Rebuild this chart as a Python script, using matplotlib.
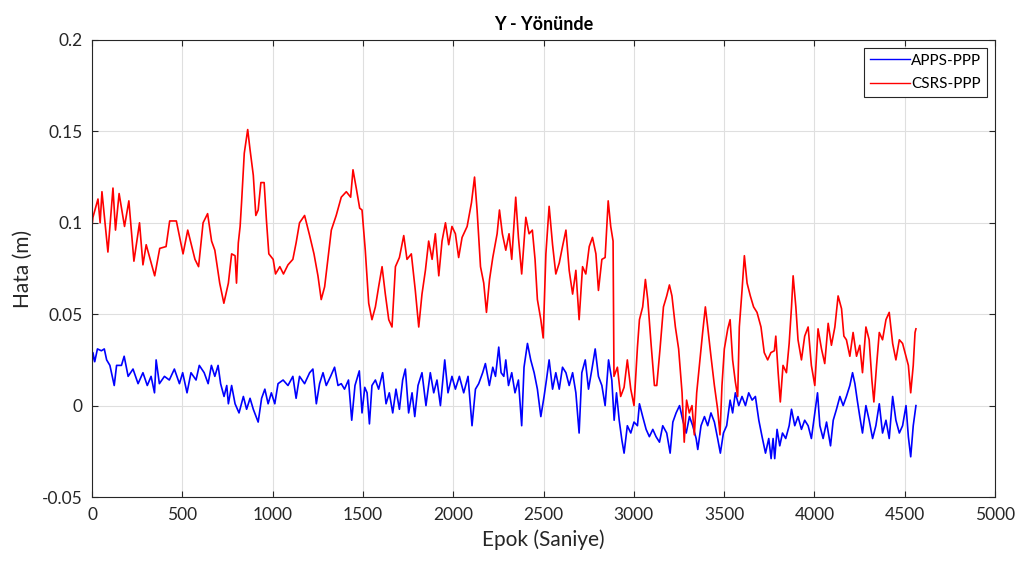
import matplotlib
matplotlib.use("Agg")
import matplotlib.pyplot as plt

plt.rcParams['font.family'] = ['Lato', 'DejaVu Sans']

# CSRS-PPP (red) - epoch / error (m)
red_t = [0, 5, 33, 45, 55, 88, 116, 130, 150, 180,
         204, 232, 263, 282, 300, 347, 375, 410, 430, 467,
         504, 530, 570, 590, 615, 640, 662, 680, 707, 730,
         755, 773, 792, 800, 810, 820, 828, 843, 862, 875,
         893, 907, 920, 935, 953, 966, 979, 1003, 1016, 1040,
         1060, 1085, 1112, 1130, 1149, 1177, 1205, 1229, 1251, 1269,
         1288, 1306, 1325, 1352, 1380, 1408, 1432, 1445, 1463, 1482,
         1495, 1513, 1532, 1550, 1569, 1587, 1606, 1624, 1643, 1661,
         1680, 1702, 1726, 1744, 1768, 1790, 1809, 1827, 1846, 1864,
         1883, 1901, 1920, 1938, 1957, 1975, 1993, 2012, 2030, 2049,
         2077, 2101, 2118, 2132, 2151, 2169, 2184, 2201, 2219, 2243,
         2256, 2272, 2291, 2309, 2324, 2346, 2361, 2379, 2402, 2420,
         2438, 2453, 2466, 2485, 2498, 2513, 2531, 2550, 2568, 2587,
         2605, 2624, 2642, 2661, 2679, 2697, 2716, 2734, 2753, 2771,
         2790, 2804, 2823, 2841, 2858, 2872, 2885, 2890, 2909, 2927,
         2946, 2964, 2983, 3001, 3020, 3031, 3049, 3064, 3077, 3096,
         3114, 3127, 3145, 3164, 3182, 3197, 3211, 3230, 3248, 3267,
         3279, 3292, 3307, 3322, 3335, 3348, 3366, 3381, 3396, 3409,
         3427, 3446, 3464, 3477, 3488, 3501, 3520, 3533, 3547, 3562,
         3575, 3584, 3599, 3612, 3627, 3645, 3663, 3682, 3704, 3722,
         3741, 3759, 3778, 3786, 3799, 3811, 3826, 3845, 3860, 3873,
         3882, 3897, 3909, 3928, 3946, 3965, 3983, 4002, 4020, 4039,
         4057, 4076, 4094, 4113, 4131, 4150, 4163, 4177, 4196, 4214,
         4233, 4251, 4266, 4285, 4303, 4318, 4329, 4344, 4359, 4377,
         4396, 4414, 4433, 4451, 4470, 4488, 4507, 4520, 4533, 4547,
         4557, 4562]
red_v = [0.098, 0.103, 0.113, 0.100, 0.117, 0.084, 0.119, 0.096, 0.116, 0.098,
         0.112, 0.079, 0.100, 0.077, 0.088, 0.071, 0.086, 0.087, 0.101, 0.101,
         0.083, 0.096, 0.080, 0.076, 0.100, 0.105, 0.090, 0.085, 0.067, 0.056,
         0.067, 0.083, 0.082, 0.067, 0.089, 0.098, 0.111, 0.138, 0.151, 0.140,
         0.126, 0.104, 0.107, 0.122, 0.122, 0.101, 0.083, 0.080, 0.072, 0.076,
         0.072, 0.077, 0.080, 0.089, 0.100, 0.104, 0.093, 0.083, 0.071, 0.058,
         0.065, 0.080, 0.096, 0.104, 0.114, 0.117, 0.114, 0.129, 0.119, 0.108,
         0.107, 0.085, 0.056, 0.047, 0.054, 0.065, 0.076, 0.061, 0.047, 0.043,
         0.076, 0.081, 0.093, 0.080, 0.083, 0.063, 0.043, 0.061, 0.074, 0.090,
         0.080, 0.094, 0.071, 0.090, 0.100, 0.088, 0.098, 0.094, 0.081, 0.092,
         0.098, 0.111, 0.125, 0.107, 0.076, 0.067, 0.051, 0.069, 0.081, 0.094,
         0.107, 0.094, 0.085, 0.094, 0.080, 0.114, 0.092, 0.072, 0.103, 0.094,
         0.096, 0.080, 0.058, 0.047, 0.037, 0.083, 0.109, 0.088, 0.072, 0.078,
         0.087, 0.096, 0.074, 0.061, 0.074, 0.047, 0.076, 0.072, 0.087, 0.092,
         0.083, 0.063, 0.080, 0.081, 0.112, 0.098, 0.090, 0.016, 0.021, 0.005,
         0.010, 0.025, 0.009, 0.000, 0.032, 0.047, 0.054, 0.069, 0.058, 0.033,
         0.011, 0.011, 0.031, 0.054, 0.060, 0.066, 0.060, 0.043, 0.031, 0.007,
         -0.020, 0.003, -0.004, 0.000, -0.016, 0.007, 0.025, 0.040, 0.054, 0.043,
         0.027, 0.011, -0.002, -0.016, 0.011, 0.031, 0.042, 0.047, 0.025, 0.013,
         0.005, 0.043, 0.063, 0.082, 0.067, 0.060, 0.054, 0.051, 0.043, 0.029,
         0.025, 0.029, 0.030, 0.038, 0.018, 0.002, 0.022, 0.018, 0.034, 0.054,
         0.071, 0.054, 0.036, 0.025, 0.038, 0.043, 0.022, 0.011, 0.042, 0.031,
         0.023, 0.045, 0.033, 0.043, 0.060, 0.053, 0.038, 0.036, 0.027, 0.040,
         0.027, 0.033, 0.018, 0.043, 0.036, 0.014, 0.002, 0.022, 0.040, 0.036,
         0.047, 0.051, 0.034, 0.025, 0.036, 0.034, 0.027, 0.022, 0.007, 0.022,
         0.040, 0.042]

# APPS-PPP (blue)
blue_t = [0, 5, 15, 30, 52, 68, 81, 99, 123, 136,
          163, 178, 200, 227, 255, 282, 306, 327, 346, 355,
          373, 401, 428, 456, 484, 502, 526, 548, 576, 594,
          621, 643, 661, 680, 698, 712, 731, 746, 755, 773,
          792, 814, 838, 856, 875, 893, 920, 939, 957, 975,
          993, 1012, 1030, 1058, 1085, 1112, 1130, 1149, 1177, 1205,
          1223, 1242, 1260, 1279, 1297, 1321, 1343, 1362, 1380, 1398,
          1420, 1438, 1456, 1480, 1495, 1510, 1523, 1536, 1550, 1569,
          1587, 1609, 1628, 1646, 1665, 1683, 1702, 1720, 1735, 1753,
          1772, 1787, 1805, 1827, 1849, 1873, 1892, 1910, 1929, 1953,
          1971, 1993, 2012, 2034, 2058, 2082, 2104, 2123, 2141, 2163,
          2178, 2200, 2219, 2234, 2252, 2265, 2280, 2291, 2306, 2324,
          2342, 2361, 2379, 2392, 2411, 2429, 2448, 2466, 2485, 2503,
          2516, 2531, 2550, 2568, 2587, 2605, 2624, 2642, 2661, 2679,
          2697, 2712, 2731, 2749, 2768, 2786, 2804, 2823, 2841, 2860,
          2878, 2891, 2904, 2919, 2934, 2946, 2964, 2983, 3001, 3020,
          3031, 3049, 3068, 3086, 3105, 3123, 3142, 3160, 3182, 3201,
          3216, 3234, 3253, 3271, 3290, 3308, 3326, 3345, 3354, 3372,
          3391, 3409, 3427, 3446, 3464, 3479, 3496, 3514, 3533, 3547,
          3562, 3581, 3599, 3618, 3636, 3655, 3673, 3692, 3710, 3729,
          3747, 3760, 3771, 3780, 3793, 3808, 3823, 3841, 3860, 3873,
          3891, 3909, 3928, 3946, 3965, 3983, 4002, 4017, 4030, 4048,
          4067, 4089, 4104, 4122, 4141, 4159, 4177, 4196, 4211, 4224,
          4237, 4251, 4266, 4285, 4303, 4322, 4340, 4359, 4377, 4396,
          4414, 4433, 4451, 4470, 4488, 4507, 4520, 4533, 4547, 4562]
blue_v = [0.022, 0.029, 0.024, 0.031, 0.030, 0.031, 0.025, 0.022, 0.011, 0.022,
          0.022, 0.027, 0.016, 0.020, 0.012, 0.018, 0.011, 0.016, 0.007, 0.025,
          0.012, 0.016, 0.014, 0.020, 0.012, 0.018, 0.007, 0.018, 0.014, 0.022,
          0.018, 0.012, 0.022, 0.016, 0.022, 0.012, 0.005, 0.011, 0.001, 0.011,
          0.001, -0.004, 0.005, -0.002, 0.004, -0.002, -0.009, 0.004, 0.009, 0.001,
          0.007, 0.001, 0.012, 0.014, 0.011, 0.016, 0.004, 0.016, 0.012, 0.018,
          0.020, 0.001, 0.012, 0.018, 0.011, 0.016, 0.021, 0.011, 0.012, 0.009,
          0.014, -0.008, 0.011, 0.019, -0.004, 0.010, 0.007, -0.010, 0.011, 0.014,
          0.009, 0.018, 0.001, 0.007, -0.004, 0.009, -0.002, 0.014, 0.020, -0.004,
          0.007, -0.006, 0.011, 0.018, 0.000, 0.018, 0.007, 0.014, 0.000, 0.025,
          0.007, 0.016, 0.009, 0.016, 0.007, 0.016, -0.011, 0.009, 0.012, 0.018,
          0.023, 0.011, 0.021, 0.016, 0.032, 0.018, 0.016, 0.025, 0.011, 0.018,
          0.007, 0.014, -0.011, 0.021, 0.034, 0.025, 0.018, 0.009, -0.006, 0.005,
          0.014, 0.025, 0.009, 0.018, 0.009, 0.021, 0.018, 0.011, 0.018, 0.007,
          -0.015, 0.018, 0.025, 0.009, 0.020, 0.031, 0.016, 0.011, 0.000, 0.025,
          0.014, -0.008, 0.007, -0.008, -0.019, -0.026, -0.011, -0.015, -0.009, -0.011,
          0.001, -0.006, -0.013, -0.017, -0.013, -0.017, -0.020, -0.011, -0.015, -0.026,
          -0.009, -0.004, 0.000, -0.008, -0.015, -0.006, -0.011, -0.018, -0.024, -0.011,
          -0.006, -0.011, -0.004, -0.009, -0.018, -0.026, -0.015, -0.011, 0.003, -0.004,
          0.007, 0.000, 0.005, 0.000, 0.007, 0.003, 0.005, -0.008, -0.017, -0.026,
          -0.018, -0.029, -0.018, -0.029, -0.013, -0.022, -0.015, -0.018, -0.011, -0.002,
          -0.011, -0.006, -0.013, -0.008, -0.011, -0.018, -0.004, 0.007, -0.011, -0.018,
          -0.009, -0.022, -0.008, -0.002, 0.005, 0.000, 0.005, 0.011, 0.018, 0.012,
          0.003, -0.006, -0.015, 0.000, -0.008, -0.018, -0.011, 0.001, -0.015, -0.008,
          -0.018, 0.005, -0.008, -0.015, -0.011, 0.000, -0.017, -0.028, -0.011, 0.000]

assert len(red_t) == len(red_v), (len(red_t), len(red_v))
assert len(blue_t) == len(blue_v), (len(blue_t), len(blue_v))

x_ticks = [0, 500, 1000, 1500, 2000, 2500, 3000, 3500, 4000, 4500, 5000]
y_ticks = [-0.05, 0, 0.05, 0.1, 0.15, 0.2]
y_tick_labels = ['-0.05', '0', '0.05', '0.1', '0.15', '0.2']

fig = plt.figure(figsize=(10.19, 5.63), dpi=100)
ax = fig.add_axes([0.0903, 0.1172, 0.8862, 0.8118])

ax.plot(blue_t, blue_v, color=(0, 0, 1), lw=1.2, label='APPS-PPP')
ax.plot(red_t, red_v, color=(1, 0, 0), lw=1.2, label='CSRS-PPP')

ax.set_xlim(0, 5000)
ax.set_ylim(-0.05, 0.2)
ax.set_xticks(x_ticks)
ax.set_yticks(y_ticks)
ax.set_yticklabels(y_tick_labels)
ax.grid(True, color='#dfdfdf', lw=0.8)
ax.set_axisbelow(True)
for s in ax.spines.values():
    s.set_color('#262626')
    s.set_linewidth(0.8)
ax.tick_params(direction='in', top=True, right=True, length=4,
               colors='#262626', labelsize=12.5, pad=7)

ax.set_title('Y - Yönünde', fontsize=13, fontweight='bold', pad=7)
ax.set_xlabel('Epok (Saniye)', fontsize=15, color='#262626', labelpad=5)
ax.set_ylabel('Hata (m)', fontsize=15, color='#262626', labelpad=6)

leg = ax.legend(loc='upper right', fontsize=11, handlelength=2.6, fancybox=False,
                framealpha=1, borderaxespad=0.5, handletextpad=0.1,
                labelspacing=0.6)
leg.get_frame().set_edgecolor('#262626')
leg.get_frame().set_linewidth(0.8)
for line in leg.get_lines():
    line.set_linewidth(1.0)

fig.savefig('out.png', dpi=100)
